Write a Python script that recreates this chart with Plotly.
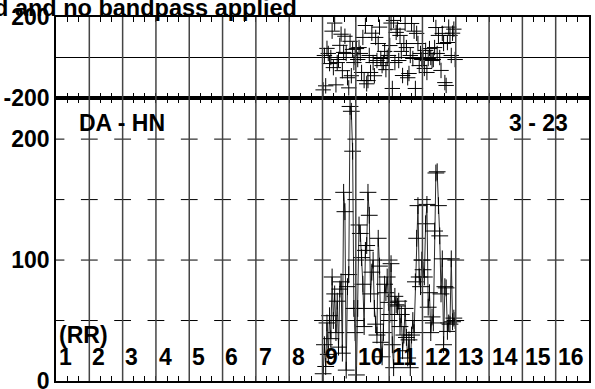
import plotly.graph_objects as go

# ---------------- data ----------------
scan_labels = [str(i) for i in range(1, 17)]
n_scans = 16
data_scans = [9, 10, 11, 12]
samples_per_scan = 26

amp_scan9 = [6, 30, 12, 48, 22, 54, 35, 86, 50, 72, 40, 66, 28, 76, 82, 23, 156, 140, 9, 78, 88, 227, 223, 190, 60, 40]
amp_scan10 = [5, 60, 129, 122, 102, 80, 45, 108, 112, 156, 137, 72, 90, 100, 60, 47, 38, 118, 95, 32, 20, 40, 80, 73, 86, 65]
amp_scan11 = [55, 97, 30, 11, 70, 63, 62, 66, 45, 55, 25, 38, 60, 36, 19, 34, 11, 38, 50, 40, 82, 118, 145, 86, 78, 100]
amp_scan12 = [92, 86, 130, 146, 61, 73, 40, 53, 48, 124, 172, 173, 145, 120, 72, 101, 30, 78, 77, 41, 48, 47, 101, 49, 52, 50]

phase_scan9 = [-160, 10, -140, 45, 20, -30, 0, 130, -50, 170, -135, -25, -10, 60, 115, -65, 25, 105, 20, -100, -150, 80, -90, 40, -25, 0]
phase_scan10 = [44, -10, 49, 20, -74, 99, -114, 158, -130, -114, 10, -74, 120, -25, -90, 99, -15, 69, 150, -5, -40, -25, 30, -60, 0, 10]
phase_scan11 = [59, 170, -153, 183, -25, 124, 140, -15, 109, 30, -89, 69, 168, 49, -100, -79, 10, 168, -5, 130, -153, 119, 69, -40, 20, -10]
phase_scan12 = [-5, -54, 35, -74, -5, 44, 0, -15, -10, 49, 148, 20, 109, 0, -64, 119, 69, -124, -138, 74, 150, 109, 10, 120, 140, -10]

amp_ticks = [50, 100, 150, 200]
amp_labels = [0, 100, 200]
phase_labels = [-200, 200]

title_text = "d and no bandpass applied"
baseline_text = "DA - HN"
channel_text = "3 - 23"
stokes_text = "(RR)"

# ---------------- build ----------------
amps = amp_scan9 + amp_scan10 + amp_scan11 + amp_scan12
phases = phase_scan9 + phase_scan10 + phase_scan11 + phase_scan12
times = []
for s in data_scans:
    for i in range(samples_per_scan):
        times.append((s - 1) + (i + 0.5) / samples_per_scan)

FONT = "Liberation Sans, Arial, sans-serif"
FS = 23

fig = go.Figure()

# amplitude (bottom panel)
fig.add_trace(go.Scatter(
    x=times, y=amps, mode="lines+markers",
    line=dict(color="#2a2a2a", width=1),
    marker=dict(symbol="cross-thin", size=12, line=dict(color="black", width=1)),
    xaxis="x", yaxis="y", showlegend=False))

# phase (top panel)
fig.add_trace(go.Scatter(
    x=times, y=phases, mode="markers",
    marker=dict(symbol="cross-thin", size=11, line=dict(color="black", width=1)),
    xaxis="x2", yaxis="y2", showlegend=False))

# crossbar ticks on scan boundaries
bx, by = [], []
for b in range(0, n_scans + 1):
    for t in amp_ticks:
        bx.append(b)
        by.append(t)
fig.add_trace(go.Scatter(
    x=bx, y=by, mode="markers",
    marker=dict(symbol="line-ew", size=12, line=dict(color="black", width=1)),
    xaxis="x", yaxis="y", showlegend=False, hoverinfo="skip"))

# scan boundary lines
shapes = []
for b in range(1, n_scans):
    shapes.append(dict(type="line", xref="x", yref="paper", x0=b, x1=b, y0=0, y1=1,
                       line=dict(color="#444444", width=1.5)))

split = 0.7775
axis_common = dict(showgrid=False, showline=True, linecolor="black", linewidth=1.5,
                   range=[0, n_scans], tick0=0, dtick=1/3, ticks="inside", ticklen=5,
                   tickcolor="black", showticklabels=False, mirror="ticks", zeroline=False,
                   automargin=False)

tickfont = dict(family=FONT, size=FS, color="black", weight="bold")
bold = dict(family=FONT, size=FS, color="black", weight="bold")

annotations = [
    dict(text=title_text, xref="paper", yref="paper", x=(299 - 56) / 533, y=1.0 - 6 / 364,
         xanchor="right", yanchor="bottom", showarrow=False,
         font=dict(family=FONT, size=23.5, color="black", weight="bold")),
    dict(text=baseline_text, xref="x", yref="y", x=0.62, y=213, xanchor="left",
         yanchor="middle", showarrow=False, font=bold),
    dict(text=channel_text, xref="x", yref="y", x=15.42, y=213, xanchor="right",
         yanchor="middle", showarrow=False, font=bold),
    dict(text=stokes_text, xref="x", yref="y", x=0.02, y=38, xanchor="left",
         yanchor="middle", showarrow=False, font=bold),
]
for k, lab in enumerate(scan_labels):
    annotations.append(dict(text=lab, xref="x", yref="y", x=k + 0.02, y=20,
                            xanchor="left", yanchor="middle", showarrow=False, font=bold))

fig.update_layout(
    width=595, height=389,
    margin=dict(l=56, r=6, t=17, b=8, autoexpand=False),
    paper_bgcolor="white", plot_bgcolor="white",
    xaxis=dict(anchor="y", domain=[0, 1], **axis_common),
    xaxis2=dict(anchor="y2", domain=[0, 1], matches="x", **axis_common),
    yaxis=dict(domain=[0, split], range=[0, 234], showgrid=False, showline=True,
               linecolor="black", linewidth=1.5, mirror=True, ticks="",
               tickvals=amp_labels, ticktext=[str(v) for v in amp_labels],
               tickfont=tickfont, zeroline=False, automargin=False,
               ticklabeloverflow="allow"),
    yaxis2=dict(domain=[split, 1], range=[-200, 200], showgrid=False, showline=True,
                linecolor="black", linewidth=1.5, mirror=True, ticks="",
                tickvals=phase_labels, ticktext=[str(v) for v in phase_labels],
                tickfont=tickfont, zeroline=True, zerolinecolor="black", zerolinewidth=1,
                automargin=False, ticklabeloverflow="allow"),
    shapes=shapes,
    annotations=annotations,
)

fig.write_html("out.html",
               config={"displayModeBar": False},
               post_script="document.body.style.margin='0';document.body.style.overflow='hidden';")
